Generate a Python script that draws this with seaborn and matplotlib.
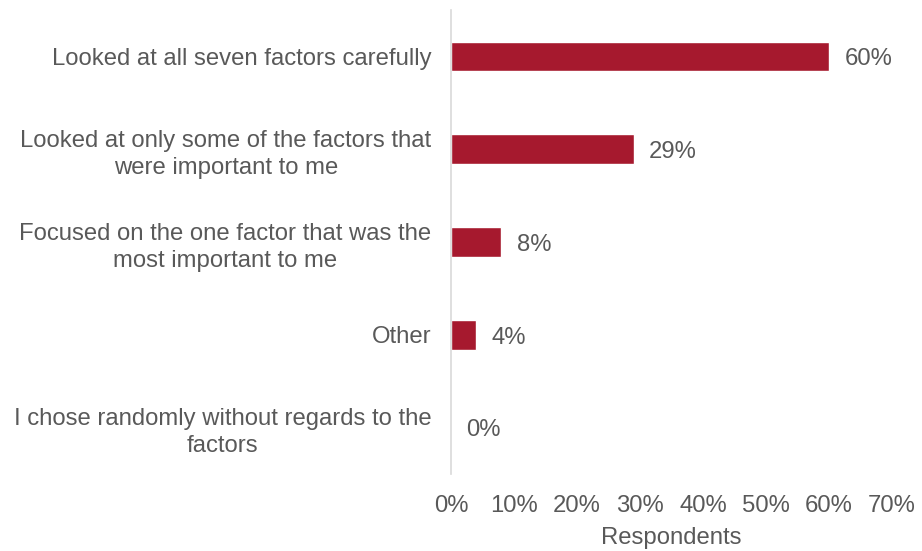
import matplotlib
matplotlib.use("Agg")
import matplotlib.pyplot as plt
import seaborn as sns
import pandas as pd
from matplotlib.ticker import PercentFormatter

categories = [
    "Looked at all seven factors carefully",
    "Looked at only some of the factors that\nwere important to me",
    "Focused on the one factor that was the\nmost important to me",
    "Other",
    "I chose randomly without regards to the\nfactors",
]
values = [60, 29, 8, 4, 0]
xticks = [0, 10, 20, 30, 40, 50, 60, 70]

sns.set_theme(style="white")
plt.rcParams['font.family'] = ['Liberation Sans', 'DejaVu Sans']
text_color = "#595959"
bar_color = "#A6192E"
fs = 17.2

df = pd.DataFrame({"category": categories, "value": values})

fig = plt.figure(figsize=(9.22, 5.51), dpi=100)
ax = fig.add_axes([451/922, 1-474/551, (892-451)/922, (474-10)/551])
sns.barplot(data=df, x="value", y="category", color=bar_color, width=0.32,
            saturation=1, ax=ax, orient="h")

ax.set_xlim(0, 70)
ax.set_xticks(xticks)
ax.xaxis.set_major_formatter(PercentFormatter(decimals=0))
for s in ["top", "right", "bottom"]:
    ax.spines[s].set_visible(False)
ax.spines["left"].set_color("#D9D9D9")
ax.spines["left"].set_linewidth(1.2)
ax.tick_params(axis="both", length=0, labelsize=fs, labelcolor=text_color)
ax.tick_params(axis="y", pad=14)
ax.tick_params(axis="x", pad=15)
for lbl in ax.get_yticklabels():
    lbl.set_horizontalalignment("right")
    lbl.set_multialignment("center")
    lbl.set_linespacing(1.3)
ax.set_ylabel("")
ax.set_xlabel("Respondents", fontsize=fs, color=text_color, labelpad=7)

for c in ax.containers:
    texts = ax.bar_label(c, labels=[f"{v}%" for v in values], padding=11,
                         fontsize=fs, color=text_color)
    for t in texts:
        x0, y0 = t.xyann
        t.xyann = (x0, y0 - 2)

fig.savefig("out.png", dpi=100)
